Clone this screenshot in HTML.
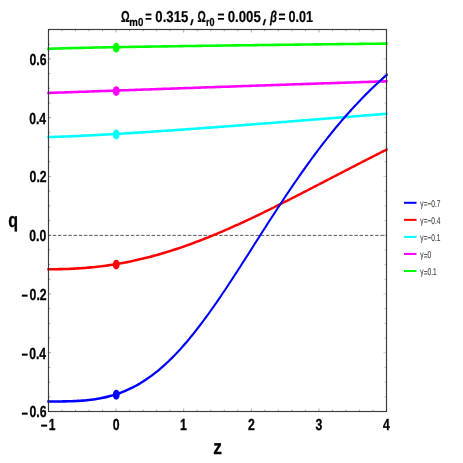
<!DOCTYPE html>
<html><head><meta charset="utf-8"><title>q(z)</title>
<style>html,body{margin:0;padding:0;background:#fff}svg{display:block}text{font-family:"Liberation Sans",sans-serif;text-rendering:geometricPrecision}</style></head><body>
<svg width="463" height="463" viewBox="0 0 463 463">
<rect width="463" height="463" fill="#fff"/>
<path d="M48.50 411.5v-3.0M48.50 29.5v3.0M62.02 411.5v-1.8M62.02 29.5v1.8M75.54 411.5v-1.8M75.54 29.5v1.8M89.06 411.5v-1.8M89.06 29.5v1.8M102.58 411.5v-1.8M102.58 29.5v1.8M116.10 411.5v-3.0M116.10 29.5v3.0M129.62 411.5v-1.8M129.62 29.5v1.8M143.14 411.5v-1.8M143.14 29.5v1.8M156.66 411.5v-1.8M156.66 29.5v1.8M170.18 411.5v-1.8M170.18 29.5v1.8M183.70 411.5v-3.0M183.70 29.5v3.0M197.22 411.5v-1.8M197.22 29.5v1.8M210.74 411.5v-1.8M210.74 29.5v1.8M224.26 411.5v-1.8M224.26 29.5v1.8M237.78 411.5v-1.8M237.78 29.5v1.8M251.30 411.5v-3.0M251.30 29.5v3.0M264.82 411.5v-1.8M264.82 29.5v1.8M278.34 411.5v-1.8M278.34 29.5v1.8M291.86 411.5v-1.8M291.86 29.5v1.8M305.38 411.5v-1.8M305.38 29.5v1.8M318.90 411.5v-3.0M318.90 29.5v3.0M332.42 411.5v-1.8M332.42 29.5v1.8M345.94 411.5v-1.8M345.94 29.5v1.8M359.46 411.5v-1.8M359.46 29.5v1.8M372.98 411.5v-1.8M372.98 29.5v1.8M386.50 411.5v-3.0M386.50 29.5v3.0M48.5 411.50h2.7M48.5 396.81h1.8M48.5 382.12h1.8M48.5 367.42h1.8M48.5 352.73h2.7M48.5 338.04h1.8M48.5 323.35h1.8M48.5 308.65h1.8M48.5 293.96h2.7M48.5 279.27h1.8M48.5 264.58h1.8M48.5 249.88h1.8M48.5 235.19h2.7M48.5 220.50h1.8M48.5 205.81h1.8M48.5 191.12h1.8M48.5 176.42h2.7M48.5 161.73h1.8M48.5 147.04h1.8M48.5 132.35h1.8M48.5 117.65h2.7M48.5 102.96h1.8M48.5 88.27h1.8M48.5 73.58h1.8M48.5 58.88h2.7M48.5 44.19h1.8M48.5 29.50h1.8" stroke="#555" stroke-width="0.5" fill="none"/>
<path d="M386.5 411.50h-3.1M386.5 396.81h-2.2M386.5 382.12h-2.2M386.5 367.42h-2.2M386.5 352.73h-3.1M386.5 338.04h-2.2M386.5 323.35h-2.2M386.5 308.65h-2.2M386.5 293.96h-3.1M386.5 279.27h-2.2M386.5 264.58h-2.2M386.5 249.88h-2.2M386.5 235.19h-3.1M386.5 220.50h-2.2M386.5 205.81h-2.2M386.5 191.12h-2.2M386.5 176.42h-3.1M386.5 161.73h-2.2M386.5 147.04h-2.2M386.5 132.35h-2.2M386.5 117.65h-3.1M386.5 102.96h-2.2M386.5 88.27h-2.2M386.5 73.58h-2.2M386.5 58.88h-3.1M386.5 44.19h-2.2M386.5 29.50h-2.2" stroke="#999" stroke-width="0.5" fill="none"/>
<line x1="48.5" y1="235.39" x2="386.5" y2="235.39" stroke="#5a5a5a" stroke-width="1" stroke-dasharray="3.5 1.7" stroke-dashoffset="0.95"/>
<g transform="scale(1,1.45)" fill="none" stroke-width="1.78" stroke-linecap="butt" stroke-linejoin="round">
<path d="M47.30 33.69 L48.50 33.69 L50.63 33.60 L52.75 33.53 L54.88 33.48 L57.00 33.43 L59.13 33.39 L61.25 33.34 L63.38 33.30 L65.51 33.26 L67.63 33.23 L69.76 33.19 L71.88 33.15 L74.01 33.12 L76.14 33.08 L78.26 33.05 L80.39 33.02 L82.51 32.99 L84.64 32.95 L86.76 32.92 L88.89 32.89 L91.02 32.86 L93.14 32.83 L95.27 32.80 L97.39 32.77 L99.52 32.75 L101.64 32.72 L103.77 32.69 L105.90 32.66 L108.02 32.63 L110.15 32.61 L112.27 32.58 L114.40 32.55 L116.53 32.53 L118.65 32.50 L120.78 32.48 L122.90 32.45 L125.03 32.43 L127.15 32.40 L129.28 32.38 L131.41 32.35 L133.53 32.33 L135.66 32.30 L137.78 32.28 L139.91 32.25 L142.03 32.23 L144.16 32.21 L146.29 32.18 L148.41 32.16 L150.54 32.14 L152.66 32.11 L154.79 32.09 L156.92 32.07 L159.04 32.05 L161.17 32.02 L163.29 32.00 L165.42 31.98 L167.54 31.96 L169.67 31.93 L171.80 31.91 L173.92 31.89 L176.05 31.87 L178.17 31.85 L180.30 31.83 L182.42 31.80 L184.55 31.78 L186.68 31.76 L188.80 31.74 L190.93 31.72 L193.05 31.70 L195.18 31.68 L197.31 31.66 L199.43 31.64 L201.56 31.62 L203.68 31.60 L205.81 31.58 L207.93 31.56 L210.06 31.54 L212.19 31.52 L214.31 31.50 L216.44 31.48 L218.56 31.46 L220.69 31.44 L222.81 31.42 L224.94 31.40 L227.07 31.38 L229.19 31.36 L231.32 31.34 L233.44 31.32 L235.57 31.30 L237.69 31.28 L239.82 31.26 L241.95 31.24 L244.07 31.22 L246.20 31.21 L248.32 31.19 L250.45 31.17 L252.58 31.15 L254.70 31.13 L256.83 31.11 L258.95 31.09 L261.08 31.08 L263.20 31.06 L265.33 31.04 L267.46 31.02 L269.58 31.00 L271.71 30.98 L273.83 30.97 L275.96 30.95 L278.08 30.93 L280.21 30.91 L282.34 30.89 L284.46 30.88 L286.59 30.86 L288.71 30.84 L290.84 30.82 L292.97 30.81 L295.09 30.79 L297.22 30.77 L299.34 30.75 L301.47 30.74 L303.59 30.72 L305.72 30.70 L307.85 30.68 L309.97 30.67 L312.10 30.65 L314.22 30.63 L316.35 30.62 L318.47 30.60 L320.60 30.58 L322.73 30.56 L324.85 30.55 L326.98 30.53 L329.10 30.51 L331.23 30.50 L333.36 30.48 L335.48 30.46 L337.61 30.45 L339.73 30.43 L341.86 30.41 L343.98 30.40 L346.11 30.38 L348.24 30.36 L350.36 30.35 L352.49 30.33 L354.61 30.31 L356.74 30.30 L358.86 30.28 L360.99 30.27 L363.12 30.25 L365.24 30.23 L367.37 30.22 L369.49 30.20 L371.62 30.19 L373.75 30.17 L375.87 30.15 L378.00 30.14 L380.12 30.12 L382.25 30.11 L384.37 30.09 L386.50 30.07 L387.60 30.07" stroke="#00ff00"/>
<path d="M47.30 64.09 L48.50 64.09 L50.63 64.04 L52.75 63.99 L54.88 63.94 L57.00 63.89 L59.13 63.84 L61.25 63.79 L63.38 63.74 L65.51 63.69 L67.63 63.64 L69.76 63.59 L71.88 63.54 L74.01 63.48 L76.14 63.43 L78.26 63.38 L80.39 63.33 L82.51 63.28 L84.64 63.23 L86.76 63.17 L88.89 63.12 L91.02 63.07 L93.14 63.02 L95.27 62.97 L97.39 62.91 L99.52 62.86 L101.64 62.81 L103.77 62.76 L105.90 62.71 L108.02 62.65 L110.15 62.60 L112.27 62.55 L114.40 62.50 L116.53 62.45 L118.65 62.39 L120.78 62.34 L122.90 62.29 L125.03 62.24 L127.15 62.19 L129.28 62.13 L131.41 62.08 L133.53 62.03 L135.66 61.98 L137.78 61.93 L139.91 61.88 L142.03 61.82 L144.16 61.77 L146.29 61.72 L148.41 61.67 L150.54 61.62 L152.66 61.56 L154.79 61.51 L156.92 61.46 L159.04 61.41 L161.17 61.36 L163.29 61.31 L165.42 61.25 L167.54 61.20 L169.67 61.15 L171.80 61.10 L173.92 61.05 L176.05 61.00 L178.17 60.94 L180.30 60.89 L182.42 60.84 L184.55 60.79 L186.68 60.74 L188.80 60.69 L190.93 60.64 L193.05 60.59 L195.18 60.53 L197.31 60.48 L199.43 60.43 L201.56 60.38 L203.68 60.33 L205.81 60.28 L207.93 60.23 L210.06 60.18 L212.19 60.12 L214.31 60.07 L216.44 60.02 L218.56 59.97 L220.69 59.92 L222.81 59.87 L224.94 59.82 L227.07 59.77 L229.19 59.72 L231.32 59.67 L233.44 59.62 L235.57 59.57 L237.69 59.52 L239.82 59.46 L241.95 59.41 L244.07 59.36 L246.20 59.31 L248.32 59.26 L250.45 59.21 L252.58 59.16 L254.70 59.11 L256.83 59.06 L258.95 59.01 L261.08 58.96 L263.20 58.91 L265.33 58.86 L267.46 58.81 L269.58 58.76 L271.71 58.71 L273.83 58.66 L275.96 58.61 L278.08 58.56 L280.21 58.51 L282.34 58.46 L284.46 58.41 L286.59 58.36 L288.71 58.31 L290.84 58.26 L292.97 58.21 L295.09 58.16 L297.22 58.11 L299.34 58.06 L301.47 58.01 L303.59 57.96 L305.72 57.91 L307.85 57.86 L309.97 57.82 L312.10 57.77 L314.22 57.72 L316.35 57.67 L318.47 57.62 L320.60 57.57 L322.73 57.52 L324.85 57.47 L326.98 57.42 L329.10 57.37 L331.23 57.32 L333.36 57.27 L335.48 57.23 L337.61 57.18 L339.73 57.13 L341.86 57.08 L343.98 57.03 L346.11 56.98 L348.24 56.93 L350.36 56.88 L352.49 56.84 L354.61 56.79 L356.74 56.74 L358.86 56.69 L360.99 56.64 L363.12 56.59 L365.24 56.54 L367.37 56.50 L369.49 56.45 L371.62 56.40 L373.75 56.35 L375.87 56.30 L378.00 56.26 L380.12 56.21 L382.25 56.16 L384.37 56.11 L386.50 56.06 L387.60 56.04" stroke="#ff00ff"/>
<path d="M47.30 94.49 L48.50 94.49 L50.63 94.46 L52.75 94.43 L54.88 94.39 L57.00 94.35 L59.13 94.30 L61.25 94.25 L63.38 94.20 L65.51 94.14 L67.63 94.09 L69.76 94.03 L71.88 93.97 L74.01 93.90 L76.14 93.84 L78.26 93.77 L80.39 93.70 L82.51 93.63 L84.64 93.56 L86.76 93.49 L88.89 93.42 L91.02 93.34 L93.14 93.26 L95.27 93.19 L97.39 93.11 L99.52 93.03 L101.64 92.95 L103.77 92.87 L105.90 92.79 L108.02 92.70 L110.15 92.62 L112.27 92.53 L114.40 92.45 L116.53 92.36 L118.65 92.28 L120.78 92.19 L122.90 92.10 L125.03 92.01 L127.15 91.92 L129.28 91.83 L131.41 91.74 L133.53 91.64 L135.66 91.55 L137.78 91.46 L139.91 91.36 L142.03 91.27 L144.16 91.17 L146.29 91.08 L148.41 90.98 L150.54 90.89 L152.66 90.79 L154.79 90.69 L156.92 90.59 L159.04 90.49 L161.17 90.39 L163.29 90.29 L165.42 90.19 L167.54 90.09 L169.67 89.99 L171.80 89.89 L173.92 89.79 L176.05 89.69 L178.17 89.58 L180.30 89.48 L182.42 89.38 L184.55 89.27 L186.68 89.17 L188.80 89.06 L190.93 88.96 L193.05 88.85 L195.18 88.75 L197.31 88.64 L199.43 88.53 L201.56 88.43 L203.68 88.32 L205.81 88.21 L207.93 88.11 L210.06 88.00 L212.19 87.89 L214.31 87.78 L216.44 87.67 L218.56 87.56 L220.69 87.45 L222.81 87.34 L224.94 87.24 L227.07 87.12 L229.19 87.01 L231.32 86.90 L233.44 86.79 L235.57 86.68 L237.69 86.57 L239.82 86.46 L241.95 86.35 L244.07 86.24 L246.20 86.12 L248.32 86.01 L250.45 85.90 L252.58 85.79 L254.70 85.67 L256.83 85.56 L258.95 85.45 L261.08 85.33 L263.20 85.22 L265.33 85.11 L267.46 84.99 L269.58 84.88 L271.71 84.77 L273.83 84.65 L275.96 84.54 L278.08 84.42 L280.21 84.31 L282.34 84.19 L284.46 84.08 L286.59 83.96 L288.71 83.85 L290.84 83.73 L292.97 83.62 L295.09 83.50 L297.22 83.38 L299.34 83.27 L301.47 83.15 L303.59 83.04 L305.72 82.92 L307.85 82.80 L309.97 82.69 L312.10 82.57 L314.22 82.45 L316.35 82.34 L318.47 82.22 L320.60 82.10 L322.73 81.99 L324.85 81.87 L326.98 81.75 L329.10 81.64 L331.23 81.52 L333.36 81.40 L335.48 81.29 L337.61 81.17 L339.73 81.05 L341.86 80.93 L343.98 80.82 L346.11 80.70 L348.24 80.58 L350.36 80.46 L352.49 80.35 L354.61 80.23 L356.74 80.11 L358.86 79.99 L360.99 79.87 L363.12 79.76 L365.24 79.64 L367.37 79.52 L369.49 79.40 L371.62 79.28 L373.75 79.17 L375.87 79.05 L378.00 78.93 L380.12 78.81 L382.25 78.69 L384.37 78.58 L386.50 78.46 L387.60 78.40" stroke="#00ffff"/>
<path d="M47.30 185.68 L48.50 185.68 L50.63 185.68 L52.75 185.67 L54.88 185.66 L57.00 185.64 L59.13 185.62 L61.25 185.59 L63.38 185.56 L65.51 185.51 L67.63 185.46 L69.76 185.41 L71.88 185.34 L74.01 185.27 L76.14 185.19 L78.26 185.10 L80.39 185.01 L82.51 184.91 L84.64 184.80 L86.76 184.68 L88.89 184.55 L91.02 184.41 L93.14 184.27 L95.27 184.11 L97.39 183.95 L99.52 183.78 L101.64 183.60 L103.77 183.41 L105.90 183.22 L108.02 183.01 L110.15 182.80 L112.27 182.57 L114.40 182.34 L116.53 182.10 L118.65 181.85 L120.78 181.59 L122.90 181.32 L125.03 181.05 L127.15 180.76 L129.28 180.47 L131.41 180.16 L133.53 179.85 L135.66 179.53 L137.78 179.20 L139.91 178.86 L142.03 178.51 L144.16 178.16 L146.29 177.79 L148.41 177.42 L150.54 177.04 L152.66 176.65 L154.79 176.25 L156.92 175.84 L159.04 175.43 L161.17 175.00 L163.29 174.57 L165.42 174.13 L167.54 173.68 L169.67 173.23 L171.80 172.76 L173.92 172.29 L176.05 171.81 L178.17 171.32 L180.30 170.83 L182.42 170.32 L184.55 169.81 L186.68 169.30 L188.80 168.77 L190.93 168.24 L193.05 167.70 L195.18 167.15 L197.31 166.60 L199.43 166.04 L201.56 165.47 L203.68 164.90 L205.81 164.32 L207.93 163.74 L210.06 163.14 L212.19 162.55 L214.31 161.94 L216.44 161.33 L218.56 160.71 L220.69 160.09 L222.81 159.47 L224.94 158.83 L227.07 158.19 L229.19 157.55 L231.32 156.90 L233.44 156.25 L235.57 155.59 L237.69 154.93 L239.82 154.26 L241.95 153.59 L244.07 152.91 L246.20 152.23 L248.32 151.54 L250.45 150.85 L252.58 150.16 L254.70 149.46 L256.83 148.76 L258.95 148.06 L261.08 147.35 L263.20 146.64 L265.33 145.92 L267.46 145.20 L269.58 144.48 L271.71 143.76 L273.83 143.03 L275.96 142.30 L278.08 141.57 L280.21 140.84 L282.34 140.10 L284.46 139.36 L286.59 138.62 L288.71 137.88 L290.84 137.14 L292.97 136.39 L295.09 135.64 L297.22 134.89 L299.34 134.14 L301.47 133.39 L303.59 132.63 L305.72 131.88 L307.85 131.12 L309.97 130.37 L312.10 129.61 L314.22 128.85 L316.35 128.09 L318.47 127.33 L320.60 126.57 L322.73 125.81 L324.85 125.05 L326.98 124.29 L329.10 123.53 L331.23 122.77 L333.36 122.00 L335.48 121.24 L337.61 120.48 L339.73 119.72 L341.86 118.96 L343.98 118.20 L346.11 117.44 L348.24 116.69 L350.36 115.93 L352.49 115.17 L354.61 114.42 L356.74 113.66 L358.86 112.91 L360.99 112.15 L363.12 111.40 L365.24 110.65 L367.37 109.90 L369.49 109.15 L371.62 108.41 L373.75 107.66 L375.87 106.92 L378.00 106.18 L380.12 105.43 L382.25 104.70 L384.37 103.96 L386.50 103.22 L387.60 102.84" stroke="#ff0000"/>
<path d="M47.30 276.87 L48.50 276.87 L50.63 276.87 L52.75 276.87 L54.88 276.87 L57.00 276.87 L59.13 276.86 L61.25 276.85 L63.38 276.83 L65.51 276.81 L67.63 276.78 L69.76 276.74 L71.88 276.69 L74.01 276.63 L76.14 276.57 L78.26 276.49 L80.39 276.39 L82.51 276.29 L84.64 276.17 L86.76 276.03 L88.89 275.87 L91.02 275.70 L93.14 275.50 L95.27 275.29 L97.39 275.06 L99.52 274.80 L101.64 274.52 L103.77 274.21 L105.90 273.88 L108.02 273.53 L110.15 273.14 L112.27 272.73 L114.40 272.29 L116.53 271.82 L118.65 271.32 L120.78 270.79 L122.90 270.22 L125.03 269.62 L127.15 268.99 L129.28 268.32 L131.41 267.62 L133.53 266.88 L135.66 266.10 L137.78 265.29 L139.91 264.44 L142.03 263.55 L144.16 262.62 L146.29 261.65 L148.41 260.65 L150.54 259.60 L152.66 258.52 L154.79 257.39 L156.92 256.23 L159.04 255.02 L161.17 253.78 L163.29 252.50 L165.42 251.17 L167.54 249.81 L169.67 248.40 L171.80 246.96 L173.92 245.48 L176.05 243.96 L178.17 242.40 L180.30 240.81 L182.42 239.18 L184.55 237.51 L186.68 235.80 L188.80 234.06 L190.93 232.29 L193.05 230.48 L195.18 228.65 L197.31 226.77 L199.43 224.87 L201.56 222.94 L203.68 220.98 L205.81 218.99 L207.93 216.98 L210.06 214.94 L212.19 212.88 L214.31 210.79 L216.44 208.68 L218.56 206.55 L220.69 204.39 L222.81 202.22 L224.94 200.04 L227.07 197.83 L229.19 195.62 L231.32 193.38 L233.44 191.14 L235.57 188.88 L237.69 186.62 L239.82 184.34 L241.95 182.06 L244.07 179.77 L246.20 177.47 L248.32 175.18 L250.45 172.87 L252.58 170.57 L254.70 168.27 L256.83 165.96 L258.95 163.66 L261.08 161.36 L263.20 159.06 L265.33 156.77 L267.46 154.48 L269.58 152.20 L271.71 149.93 L273.83 147.66 L275.96 145.41 L278.08 143.16 L280.21 140.92 L282.34 138.70 L284.46 136.49 L286.59 134.29 L288.71 132.10 L290.84 129.93 L292.97 127.77 L295.09 125.63 L297.22 123.50 L299.34 121.39 L301.47 119.30 L303.59 117.22 L305.72 115.16 L307.85 113.12 L309.97 111.10 L312.10 109.09 L314.22 107.11 L316.35 105.14 L318.47 103.20 L320.60 101.27 L322.73 99.36 L324.85 97.48 L326.98 95.61 L329.10 93.77 L331.23 91.94 L333.36 90.14 L335.48 88.35 L337.61 86.59 L339.73 84.85 L341.86 83.13 L343.98 81.43 L346.11 79.75 L348.24 78.09 L350.36 76.46 L352.49 74.84 L354.61 73.25 L356.74 71.67 L358.86 70.12 L360.99 68.59 L363.12 67.08 L365.24 65.58 L367.37 64.11 L369.49 62.66 L371.62 61.23 L373.75 59.82 L375.87 58.43 L378.00 57.05 L380.12 55.70 L382.25 54.37 L384.37 53.05 L386.50 51.76 L387.60 51.09" stroke="#0000ff"/>
<circle cx="116.25" cy="272.26" r="3.4" fill="#0000ff" stroke="none"/>
<circle cx="116.25" cy="182.49" r="3.4" fill="#ff0000" stroke="none"/>
<circle cx="116.25" cy="92.72" r="3.4" fill="#00ffff" stroke="none"/>
<circle cx="116.25" cy="62.80" r="3.4" fill="#ff00ff" stroke="none"/>
<circle cx="116.25" cy="32.88" r="3.4" fill="#00ff00" stroke="none"/>
<line x1="404" y1="139.86" x2="416.5" y2="139.86" stroke="#0000ff" stroke-width="1.4"/>
<line x1="404" y1="151.62" x2="416.5" y2="151.62" stroke="#ff0000" stroke-width="1.4"/>
<line x1="404" y1="163.38" x2="416.5" y2="163.38" stroke="#00ffff" stroke-width="1.4"/>
<line x1="404" y1="175.14" x2="416.5" y2="175.14" stroke="#ff00ff" stroke-width="1.4"/>
<line x1="404" y1="186.90" x2="416.5" y2="186.90" stroke="#00ff00" stroke-width="1.4"/>
</g>
<rect x="48.5" y="29.5" width="338.00" height="382.00" fill="none" stroke="#222" stroke-width="1.15" stroke-opacity="0.88"/>
<g opacity="0.999">
<text transform="translate(40.64,431.4) scale(0.7250,1)" font-size="16" font-weight="bold" font-style="normal" fill="#000" stroke="#000" stroke-width="0.32" stroke-linejoin="round">−</text>
<text transform="translate(48.72,430.2) scale(0.7527,1)" font-size="16" font-weight="bold" font-style="normal" fill="#000" stroke="#000" stroke-width="0.32" stroke-linejoin="round">1</text>
<text transform="translate(112.70,430.2) scale(0.7650,1)" font-size="16" font-weight="bold" font-style="normal" fill="#000" stroke="#000" stroke-width="0.32" stroke-linejoin="round">0</text>
<text transform="translate(180.06,430.2) scale(0.7650,1)" font-size="16" font-weight="bold" font-style="normal" fill="#000" stroke="#000" stroke-width="0.32" stroke-linejoin="round">1</text>
<text transform="translate(247.93,430.2) scale(0.7650,1)" font-size="16" font-weight="bold" font-style="normal" fill="#000" stroke="#000" stroke-width="0.32" stroke-linejoin="round">2</text>
<text transform="translate(315.56,430.2) scale(0.7650,1)" font-size="16" font-weight="bold" font-style="normal" fill="#000" stroke="#000" stroke-width="0.32" stroke-linejoin="round">3</text>
<text transform="translate(383.04,430.2) scale(0.7650,1)" font-size="16" font-weight="bold" font-style="normal" fill="#000" stroke="#000" stroke-width="0.32" stroke-linejoin="round">4</text>
<text transform="translate(29.51,417.4) scale(0.7650,1)" font-size="16" font-weight="bold" font-style="normal" fill="#000" stroke="#000" stroke-width="0.32" stroke-linejoin="round">0.6</text>
<text transform="translate(21.46,418.6) scale(0.6875,1)" font-size="16" font-weight="bold" font-style="normal" fill="#000" stroke="#000" stroke-width="0.32" stroke-linejoin="round">−</text>
<text transform="translate(29.15,358.63) scale(0.7650,1)" font-size="16" font-weight="bold" font-style="normal" fill="#000" stroke="#000" stroke-width="0.32" stroke-linejoin="round">0.4</text>
<text transform="translate(21.46,359.83) scale(0.6875,1)" font-size="16" font-weight="bold" font-style="normal" fill="#000" stroke="#000" stroke-width="0.32" stroke-linejoin="round">−</text>
<text transform="translate(29.58,299.86) scale(0.7650,1)" font-size="16" font-weight="bold" font-style="normal" fill="#000" stroke="#000" stroke-width="0.32" stroke-linejoin="round">0.2</text>
<text transform="translate(21.46,301.06) scale(0.6875,1)" font-size="16" font-weight="bold" font-style="normal" fill="#000" stroke="#000" stroke-width="0.32" stroke-linejoin="round">−</text>
<text transform="translate(29.28,241.09) scale(0.7650,1)" font-size="16" font-weight="bold" font-style="normal" fill="#000" stroke="#000" stroke-width="0.32" stroke-linejoin="round">0.0</text>
<text transform="translate(29.58,182.32) scale(0.7650,1)" font-size="16" font-weight="bold" font-style="normal" fill="#000" stroke="#000" stroke-width="0.32" stroke-linejoin="round">0.2</text>
<text transform="translate(29.15,123.55) scale(0.7650,1)" font-size="16" font-weight="bold" font-style="normal" fill="#000" stroke="#000" stroke-width="0.32" stroke-linejoin="round">0.4</text>
<text transform="translate(29.51,64.78) scale(0.7650,1)" font-size="16" font-weight="bold" font-style="normal" fill="#000" stroke="#000" stroke-width="0.32" stroke-linejoin="round">0.6</text>
<text transform="translate(213.20,453.7) scale(0.8535,1)" font-size="20.4" font-weight="bold" font-style="normal" fill="#000" stroke="#000" stroke-width="0.32" stroke-linejoin="round">z</text>
<text transform="translate(8.26,226.9) scale(0.7824,1)" font-size="20.5" font-weight="bold" font-style="normal" fill="#000" stroke="#000" stroke-width="0.32" stroke-linejoin="round">q</text>
<text transform="translate(121.07,22.4) scale(0.6857,1)" font-size="15.8" font-weight="bold" font-style="normal" fill="#000" stroke="#000" stroke-width="0.22" stroke-linejoin="round">Ω</text>
<text transform="translate(129.27,25.6) scale(0.8363,1)" font-size="11.6" font-weight="bold" font-style="normal" fill="#000" stroke="#000" stroke-width="0.22" stroke-linejoin="round">m0</text>
<text transform="translate(145.26,22.4) scale(0.7018,1)" font-size="15.8" font-weight="bold" font-style="normal" fill="#000" stroke="#000" stroke-width="0.22" stroke-linejoin="round">=</text>
<text transform="translate(155.37,22.4) scale(0.8318,1)" font-size="15.8" font-weight="bold" font-style="normal" fill="#000" stroke="#000" stroke-width="0.22" stroke-linejoin="round">0.315</text>
<path d="M191.8 19.3 L193.6 19.3 L191.8 25.2 L190.2 25.2 Z" fill="#000" stroke="#000" stroke-width="0.15" stroke-linejoin="round"/>
<text transform="translate(197.58,22.4) scale(0.6593,1)" font-size="15.8" font-weight="bold" font-style="normal" fill="#000" stroke="#000" stroke-width="0.22" stroke-linejoin="round">Ω</text>
<text transform="translate(206.01,25.6) scale(0.7800,1)" font-size="11.6" font-weight="bold" font-style="normal" fill="#000" stroke="#000" stroke-width="0.22" stroke-linejoin="round">r0</text>
<text transform="translate(217.42,22.4) scale(0.7520,1)" font-size="15.8" font-weight="bold" font-style="normal" fill="#000" stroke="#000" stroke-width="0.22" stroke-linejoin="round">=</text>
<text transform="translate(227.67,22.4) scale(0.8370,1)" font-size="15.8" font-weight="bold" font-style="normal" fill="#000" stroke="#000" stroke-width="0.22" stroke-linejoin="round">0.005</text>
<path d="M264.3 19.3 L266.1 19.3 L264.3 25.2 L262.7 25.2 Z" fill="#000" stroke="#000" stroke-width="0.15" stroke-linejoin="round"/>
<text transform="translate(270.12,22.4) scale(0.7114,1)" font-size="15.8" font-weight="bold" font-style="italic" fill="#000" stroke="#000" stroke-width="0.22" stroke-linejoin="round">β</text>
<text transform="translate(278.52,22.4) scale(0.7520,1)" font-size="15.8" font-weight="bold" font-style="normal" fill="#000" stroke="#000" stroke-width="0.22" stroke-linejoin="round">=</text>
<text transform="translate(288.50,22.4) scale(0.7979,1)" font-size="15.8" font-weight="bold" font-style="normal" fill="#000" stroke="#000" stroke-width="0.22" stroke-linejoin="round">0.01</text>
<text transform="translate(420.37,206.8) scale(0.6700,1)" font-size="9.8" font-weight="normal" font-style="normal" fill="#3a3a3a" stroke="#3a3a3a" stroke-width="0.1" stroke-linejoin="round">γ<tspan dy="0.55">=−</tspan><tspan dy="-0.55">0.7</tspan></text>
<text transform="translate(420.37,223.85) scale(0.6700,1)" font-size="9.8" font-weight="normal" font-style="normal" fill="#3a3a3a" stroke="#3a3a3a" stroke-width="0.1" stroke-linejoin="round">γ<tspan dy="0.55">=−</tspan><tspan dy="-0.55">0.4</tspan></text>
<text transform="translate(420.37,240.9) scale(0.6700,1)" font-size="9.8" font-weight="normal" font-style="normal" fill="#3a3a3a" stroke="#3a3a3a" stroke-width="0.1" stroke-linejoin="round">γ<tspan dy="0.55">=−</tspan><tspan dy="-0.55">0.1</tspan></text>
<text transform="translate(420.37,257.95) scale(0.6700,1)" font-size="9.8" font-weight="normal" font-style="normal" fill="#3a3a3a" stroke="#3a3a3a" stroke-width="0.1" stroke-linejoin="round">γ<tspan dy="0.55">=</tspan><tspan dy="-0.55">0</tspan></text>
<text transform="translate(420.37,275.0) scale(0.6700,1)" font-size="9.8" font-weight="normal" font-style="normal" fill="#3a3a3a" stroke="#3a3a3a" stroke-width="0.1" stroke-linejoin="round">γ<tspan dy="0.55">=</tspan><tspan dy="-0.55">0.1</tspan></text>
</g>
</svg></body></html>
